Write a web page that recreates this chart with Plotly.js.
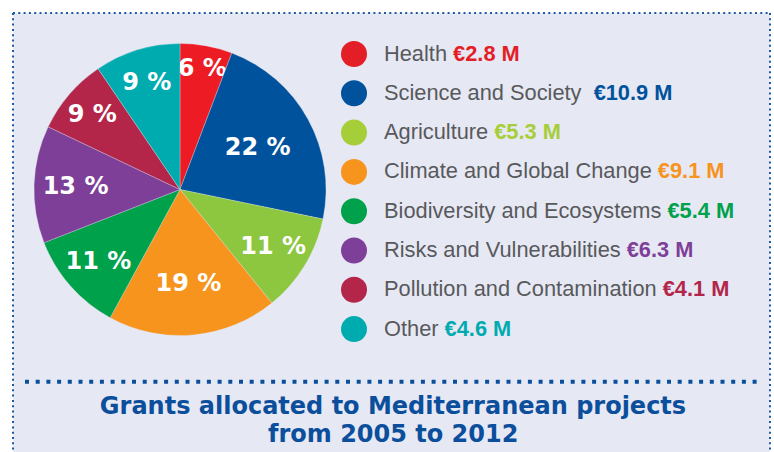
<!DOCTYPE html>
<html>
<head>
<meta charset="utf-8">
<script src="https://cdn.plot.ly/plotly-3.0.1.min.js"></script>
<style>html,body{margin:0;padding:0;background:#fff;}#chart{width:774px;height:452px;}</style>
</head>
<body>
<div id="chart"></div>
<script>
// ---- data ----
const categories = ["Health", "Science and Society", "Agriculture", "Climate and Global Change",
  "Biodiversity and Ecosystems", "Risks and Vulnerabilities", "Pollution and Contamination", "Other"];
const values = [2.8, 10.9, 5.3, 9.1, 5.4, 6.3, 4.1, 4.6];
const percentLabels = ["6 %", "22 %", "11 %", "19 %", "11 %", "13 %", "9 %", "9 %"];
const valueLabels = ["€2.8 M", "€10.9 M", "€5.3 M", "€9.1 M", "€5.4 M", "€6.3 M", "€4.1 M", "€4.6 M"];
const sliceColors = ["#ed1c24", "#00529c", "#8dc63f", "#f7941d", "#00a14b", "#7e3f98", "#b3264a", "#00abb0"];
const legendColors = ["#e31e26", "#00529c", "#a6ce39", "#f7941d", "#00a14b", "#7e3f98", "#b3264a", "#00abb0"];
const titleLines = ["Grants allocated to Mediterranean projects", "from 2005 to 2012"];

// ---- layout helpers ----
const W = 774, H = 452;
const px = x => x / W;
const py = y => 1 - y / H;
const bold = "'DejaVu Sans', sans-serif";
const sans = "'Liberation Sans', Arial, Helvetica, sans-serif";

const trace = {
  type: "pie",
  labels: categories,
  values: values,
  text: percentLabels,
  textinfo: "text",
  textposition: "inside",
  insidetextorientation: "horizontal",
  sort: false,
  direction: "clockwise",
  rotation: 0,
  marker: { colors: sliceColors, line: { width: 0.6, color: "rgba(230,232,244,0.5)" } },
  textfont: { family: bold, size: 24, color: "#ffffff", weight: "bold" },
  domain: { x: [px(34), px(326)], y: [py(335.5), py(43.5)] },
  hoverinfo: "none",
  showlegend: false
};

const shapes = [
  { type: "rect", xref: "paper", yref: "paper", x0: px(13), x1: px(770), y0: 0, y1: py(13),
    fillcolor: "#e6e8f4", line: { width: 0 }, layer: "below" },
  { type: "line", xref: "paper", yref: "paper", x0: px(13), x1: px(771), y0: py(13), y1: py(13),
    line: { color: "#1c5aa6", width: 2, dash: "2px,3.3px" } },
  { type: "line", xref: "paper", yref: "paper", x0: px(13), x1: px(13), y0: py(13), y1: 0,
    line: { color: "#1c5aa6", width: 2, dash: "2px,3.3px" } },
  { type: "line", xref: "paper", yref: "paper", x0: px(770), x1: px(770), y0: py(13), y1: 0,
    line: { color: "#1c5aa6", width: 2, dash: "2px,3.3px" } },
  { type: "line", xref: "paper", yref: "paper", x0: px(25), x1: px(760), y0: py(381.7), y1: py(381.7),
    line: { color: "#0b4f9c", width: 4, dash: "4px,6.7px" } }
];

const annotations = [];
categories.forEach((c, i) => {
  const cy = 54 + i * 39.3;
  shapes.push({ type: "circle", xref: "paper", yref: "paper",
    x0: px(341), x1: px(367), y0: py(cy + 13), y1: py(cy - 13),
    fillcolor: legendColors[i], line: { width: 0 } });
  const gap = (i === 1) ? "\u00a0\u00a0" : " ";
  annotations.push({ xref: "paper", yref: "paper", x: px(382), y: py(cy - 1), xanchor: "left", yanchor: "middle",
    showarrow: false, align: "left",
    text: c + gap + '<span style="color:' + legendColors[i] + '"><b>' + valueLabels[i] + '</b></span>',
    font: { family: sans, size: 21.8, color: "#58595b" } });
});

// second title line
annotations.push({ xref: "paper", yref: "paper", x: 393 / W, y: py(434), xanchor: "center", yanchor: "middle",
  showarrow: false, text: "<b>" + titleLines[1] + "</b>",
  font: { family: bold, size: 24, color: "#0b4f9c" } });

const layout = {
  width: W, height: H,
  margin: { l: 0, r: 0, t: 0, b: 0 },
  paper_bgcolor: "#ffffff",
  showlegend: false,
  uniformtext: { mode: "show", minsize: 24 },
  title: { text: "<b>" + titleLines[0] + "</b>", x: 393 / W, xanchor: "center", y: 1 - 406 / H, yanchor: "middle",
    yref: "container", xref: "paper",
    font: { family: bold, size: 24, color: "#0b4f9c" } },
  shapes: shapes,
  annotations: annotations
};

Plotly.newPlot("chart", [trace], layout, { displayModeBar: false, staticPlot: true });
</script>
</body>
</html>
